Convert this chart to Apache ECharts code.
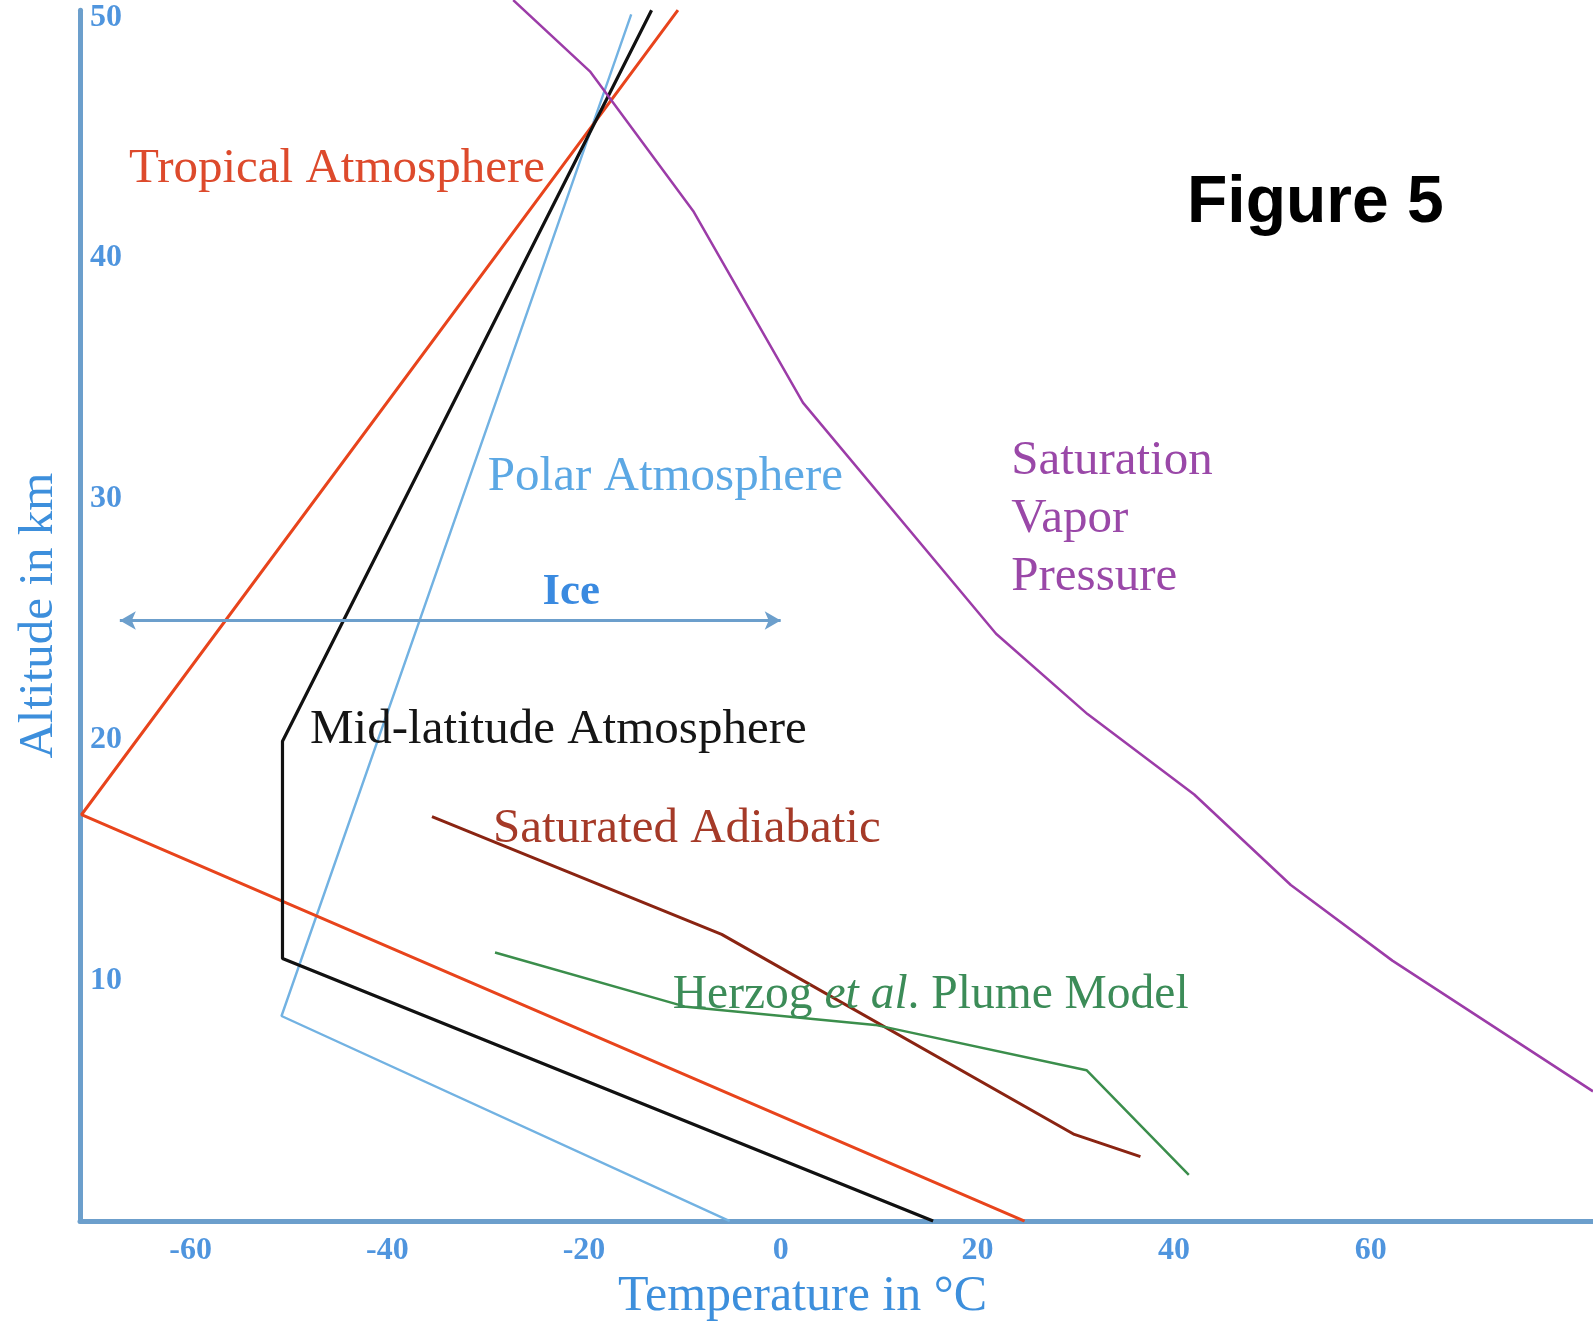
<!DOCTYPE html>
<html>
<head>
<meta charset="utf-8">
<style>
  html, body { margin: 0; padding: 0; background: #ffffff; }
  #chart { width: 1593px; height: 1327px; }
</style>
<script src="https://cdn.jsdelivr.net/npm/echarts@6/dist/echarts.min.js"></script>
</head>
<body>
<div id="chart"></div>
<script>
// ---- Data (temperature °C, altitude km) ----
const xTickValues = [-60, -40, -20, 0, 20, 40, 60];
const yTickValues = [10, 20, 30, 40, 50];

const tropicalAtmosphere = [[24.8, 0], [-71.1, 16.88], [-10.45, 50.3]];
const midLatitudeAtmosphere = [[15.5, 0], [-50.66, 10.91], [-50.66, 19.93], [-13.13, 50.3]];
const polarAtmosphere = [[-5.18, 0], [-50.76, 8.52], [-15.2, 50.13]];
const saturatedAdiabatic = [[-35.46, 16.8], [-6.0, 11.91], [29.86, 3.6], [36.58, 2.68]];
const herzogPlumeModel = [[-29.05, 11.16], [-9.62, 8.9], [9.6, 8.15], [31.1, 6.27], [41.5, 1.92]];
const saturationVaporPressure = [[-27.2, 50.72], [-19.4, 47.76], [-8.9, 41.96], [2.26, 34.0], [21.9, 24.4],
  [31.2, 21.06], [42.05, 17.72], [51.87, 13.96], [62.2, 10.82], [82.6, 5.39]];
const iceRange = [[-67.2, 24.95], [0, 24.95]];

// Annotation anchors in data coordinates (left edge, vertical middle)
const annotations = [
  { text: 'Tropical Atmosphere', at: [-66.27, 43.68], color: '#dd4a2c' },
  { text: 'Polar Atmosphere', at: [-29.78, 30.9], color: '#5ca8e4' },
  { text: 'Saturation\nVapor\nPressure', at: [23.45, 29.15], color: '#9a48a8', lh: 58 },
  { text: 'Mid-latitude Atmosphere', at: [-47.86, 20.38], color: '#151515' },
  { text: 'Saturated Adiabatic', at: [-29.26, 16.28], color: '#a53a28' },
];
const herzogAt = [-10.97, 9.39];
const iceAt = [-21.3, 26.1];

const SERIF = '"Liberation Serif", "DejaVu Serif", serif';
const AXIS_BLUE = '#6c9fcc';
const LABEL_BLUE = '#4f95de';

const chart = echarts.init(document.getElementById('chart'));

function lineSeries(name, data, color, width, extra) {
  return Object.assign({
    name, type: 'line', data, showSymbol: false, symbol: 'none',
    lineStyle: { color, width }, itemStyle: { color },
    silent: true, z: 3
  }, extra || {});
}

const option = {
  animation: false,
  backgroundColor: '#ffffff',
  title: {
    text: 'Figure 5',
    left: 1187, top: 171, padding: 0,
    textStyle: { fontFamily: '"Liberation Sans", Arial, sans-serif', fontWeight: 'bold', fontSize: 66, color: '#000' }
  },
  grid: { left: 80, right: 0, top: 10.2, bottom: 93.5 },
  xAxis: {
    type: 'value', min: -71.25, max: 82.6,
    name: 'Temperature in °C', nameLocation: 'middle', nameGap: 45,
    nameTextStyle: { fontFamily: SERIF, fontSize: 50, color: '#3d8fdc', padding: [0, 68, 0, 0] },
    axisLine: { show: true, onZero: false, lineStyle: { color: AXIS_BLUE, width: 5 } },
    axisTick: { show: false },
    splitLine: { show: false },
    axisLabel: { customValues: xTickValues, margin: 14, fontFamily: SERIF, fontWeight: 'bold', fontSize: 32, color: LABEL_BLUE }
  },
  yAxis: {
    type: 'value', min: 0, max: 50.3,
    name: 'Altitude in km', nameLocation: 'middle', nameGap: 16, nameRotate: 90,
    nameTextStyle: { fontFamily: SERIF, fontSize: 49, color: '#3d8fdc' },
    axisLine: { show: true, onZero: false, lineStyle: { color: AXIS_BLUE, width: 5 } },
    axisTick: { show: false },
    splitLine: { show: false },
    axisLabel: { customValues: yTickValues, inside: true, margin: 10, fontFamily: SERIF, fontWeight: 'bold', fontSize: 32, color: LABEL_BLUE }
  },
  series: [
    lineSeries('Polar Atmosphere', polarAtmosphere, '#72b2e2', 2.4),
    lineSeries('Tropical Atmosphere', tropicalAtmosphere, '#e8441c', 3),
    lineSeries('Mid-latitude Atmosphere', midLatitudeAtmosphere, '#111111', 3.2),
    lineSeries('Saturated Adiabatic', saturatedAdiabatic, '#8a2412', 3),
    lineSeries('Herzog et al. Plume Model', herzogPlumeModel, '#3b8e4c', 2.5),
    lineSeries('Saturation Vapor Pressure', saturationVaporPressure, '#9c3ca8', 2.5, { clip: false }),
    {
      name: 'Ice', type: 'line', data: [], silent: true,
      markLine: {
        silent: true, symbol: ['arrow', 'arrow'], symbolSize: [14, 16],
        lineStyle: { color: AXIS_BLUE, width: 3, type: 'solid' },
        label: { show: false },
        data: [[{ coord: iceRange[0] }, { coord: iceRange[1] }]]
      }
    }
  ]
};
chart.setOption(option);

function px(pt) { return chart.convertToPixel({ gridIndex: 0 }, pt); }

const graphics = annotations.map(a => {
  const p = px(a.at);
  return {
    type: 'text', x: p[0], y: p[1], z: 10, silent: true,
    style: {
      text: a.text, fill: a.color, font: '49px ' + SERIF,
      verticalAlign: 'middle', lineHeight: a.lh || 56
    }
  };
});
// Herzog label with italic "et al."
const hp = px(herzogAt);
graphics.push({
  type: 'text', x: hp[0], y: hp[1], z: 10, silent: true,
  style: {
    text: '{n|Herzog }{i|et al}{n|. Plume Model}',
    verticalAlign: 'middle',
    rich: {
      n: { fill: '#3c8c58', fontFamily: SERIF, fontSize: 47.5 },
      i: { fill: '#3c8c58', fontFamily: SERIF, fontSize: 47.5, fontStyle: 'italic' }
    }
  }
});
// Ice label
const ip = px(iceAt);
graphics.push({
  type: 'text', x: ip[0], y: ip[1], z: 10, silent: true,
  style: { text: 'Ice', fill: '#3a8ae0', font: 'bold 45px ' + SERIF, align: 'center', verticalAlign: 'middle' }
});
chart.setOption({ graphic: graphics });
</script>
</body>
</html>
